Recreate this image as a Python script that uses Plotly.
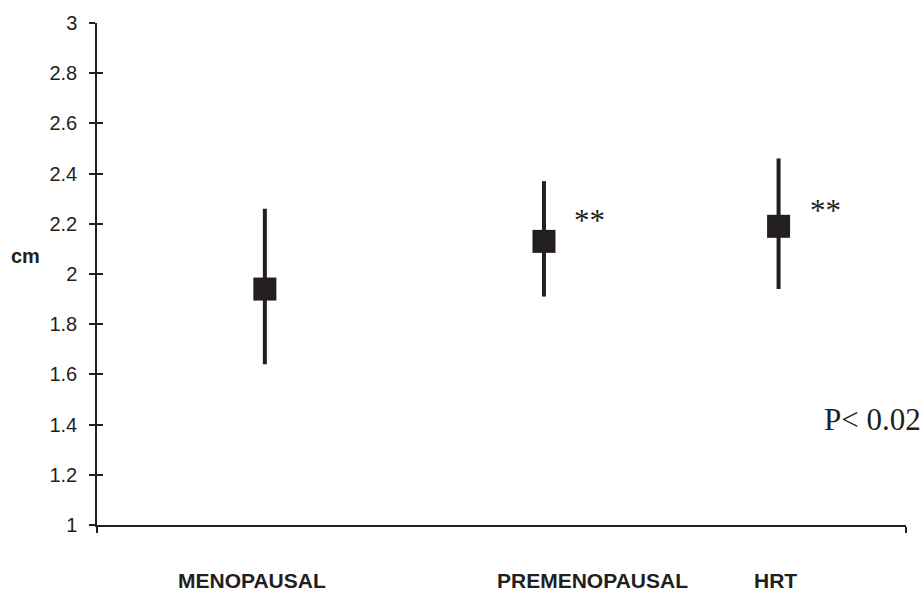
import plotly.graph_objects as go

# ---- data ----
groups = ["MENOPAUSAL", "PREMENOPAUSAL", "HRT"]
group_x = [0.83, 2.21, 3.37]
means = [1.94, 2.13, 2.19]
upper = [2.26, 2.37, 2.46]
lower = [1.64, 1.91, 1.94]
y_ticks = [1, 1.2, 1.4, 1.6, 1.8, 2, 2.2, 2.4, 2.6, 2.8, 3]
y_ticktext = ["1", "1.2", "1.4", "1.6", "1.8", "2", "2.2", "2.4", "2.6", "2.8", "3"]
sig_marks = ["", "**", "**"]
p_text = "P< 0.02"
y_unit = "cm"

INK = "#231f20"
SANS = "Liberation Sans, Arial, sans-serif"
SERIF = "Liberation Serif, Times New Roman, serif"

err_plus = [u - m for u, m in zip(upper, means)]
err_minus = [m - l for m, l in zip(means, lower)]

fig = go.Figure()
fig.add_trace(go.Scatter(
    x=group_x, y=means, mode="markers",
    marker=dict(symbol="square", size=23, color=INK),
    error_y=dict(type="data", symmetric=False, array=err_plus,
                 arrayminus=err_minus, color=INK, thickness=4, width=0),
    showlegend=False, hoverinfo="skip", cliponaxis=False,
))
# dummy trace on overlay axes to draw inside ticks (crossing tick marks)
fig.add_trace(go.Scatter(x=[None], y=[None], xaxis="x2", yaxis="y2",
                         showlegend=False, hoverinfo="skip"))

XR = [0, 4]
fig.update_layout(
    width=924, height=593,
    margin=dict(l=97, r=18, t=19, b=68),
    plot_bgcolor="white", paper_bgcolor="white",
    xaxis=dict(range=XR, showgrid=False, zeroline=False, showline=True,
               linecolor=INK, linewidth=1.5, ticks="outside", ticklen=6,
               tickwidth=1.5, tickcolor=INK, tickvals=XR, showticklabels=False),
    xaxis2=dict(range=XR, overlaying="x", showgrid=False, zeroline=False,
                showline=False, ticks="inside", ticklen=6, tickwidth=1.5,
                tickcolor=INK, tickvals=XR, showticklabels=False),
    yaxis=dict(range=[1, 3], showgrid=False, zeroline=False, showline=True,
               linecolor=INK, linewidth=1.5, ticks="outside", ticklen=6,
               tickwidth=1.5, tickcolor=INK, tickvals=y_ticks,
               ticktext=y_ticktext, ticklabelstandoff=8,
               tickfont=dict(family=SANS, size=20, color=INK)),
    yaxis2=dict(range=[1, 3], overlaying="y", side="left", showgrid=False,
                zeroline=False, showline=False, ticks="inside", ticklen=6,
                tickwidth=1.5, tickcolor=INK, tickvals=y_ticks,
                showticklabels=False),
)

# y-axis unit label
fig.add_annotation(text=f"<b>{y_unit}</b>", xref="paper", yref="y",
                   x=-0.088, y=2.07, showarrow=False, xanchor="center",
                   yanchor="middle", font=dict(family=SANS, size=20, color=INK))

# category labels below the axis
label_paper_x = [0.191, 0.613, 0.839]
for name, lx in zip(groups, label_paper_x):
    fig.add_annotation(text=f"<b>{name}</b>", xref="paper", yref="paper",
                       x=lx, y=-0.11, showarrow=False, xanchor="center",
                       yanchor="middle",
                       font=dict(family=SANS, size=21, color=INK))

# significance asterisks
sig_pos = [None, (2.435, 2.213), (3.604, 2.253)]
for s, pos in zip(sig_marks, sig_pos):
    if s and pos:
        fig.add_annotation(text=s, x=pos[0], y=pos[1], showarrow=False,
                           xanchor="center", yanchor="middle",
                           font=dict(family=SERIF, size=31, color=INK))

# p-value
fig.add_annotation(text=p_text, xref="paper", yref="y", x=0.958, y=1.42,
                   showarrow=False, xanchor="center", yanchor="middle",
                   font=dict(family=SERIF, size=31, color=INK))

fig.write_html(
    "out.html",
    config={"displayModeBar": False},
    post_script="document.body.style.margin='0';document.body.style.overflow='hidden';",
)
